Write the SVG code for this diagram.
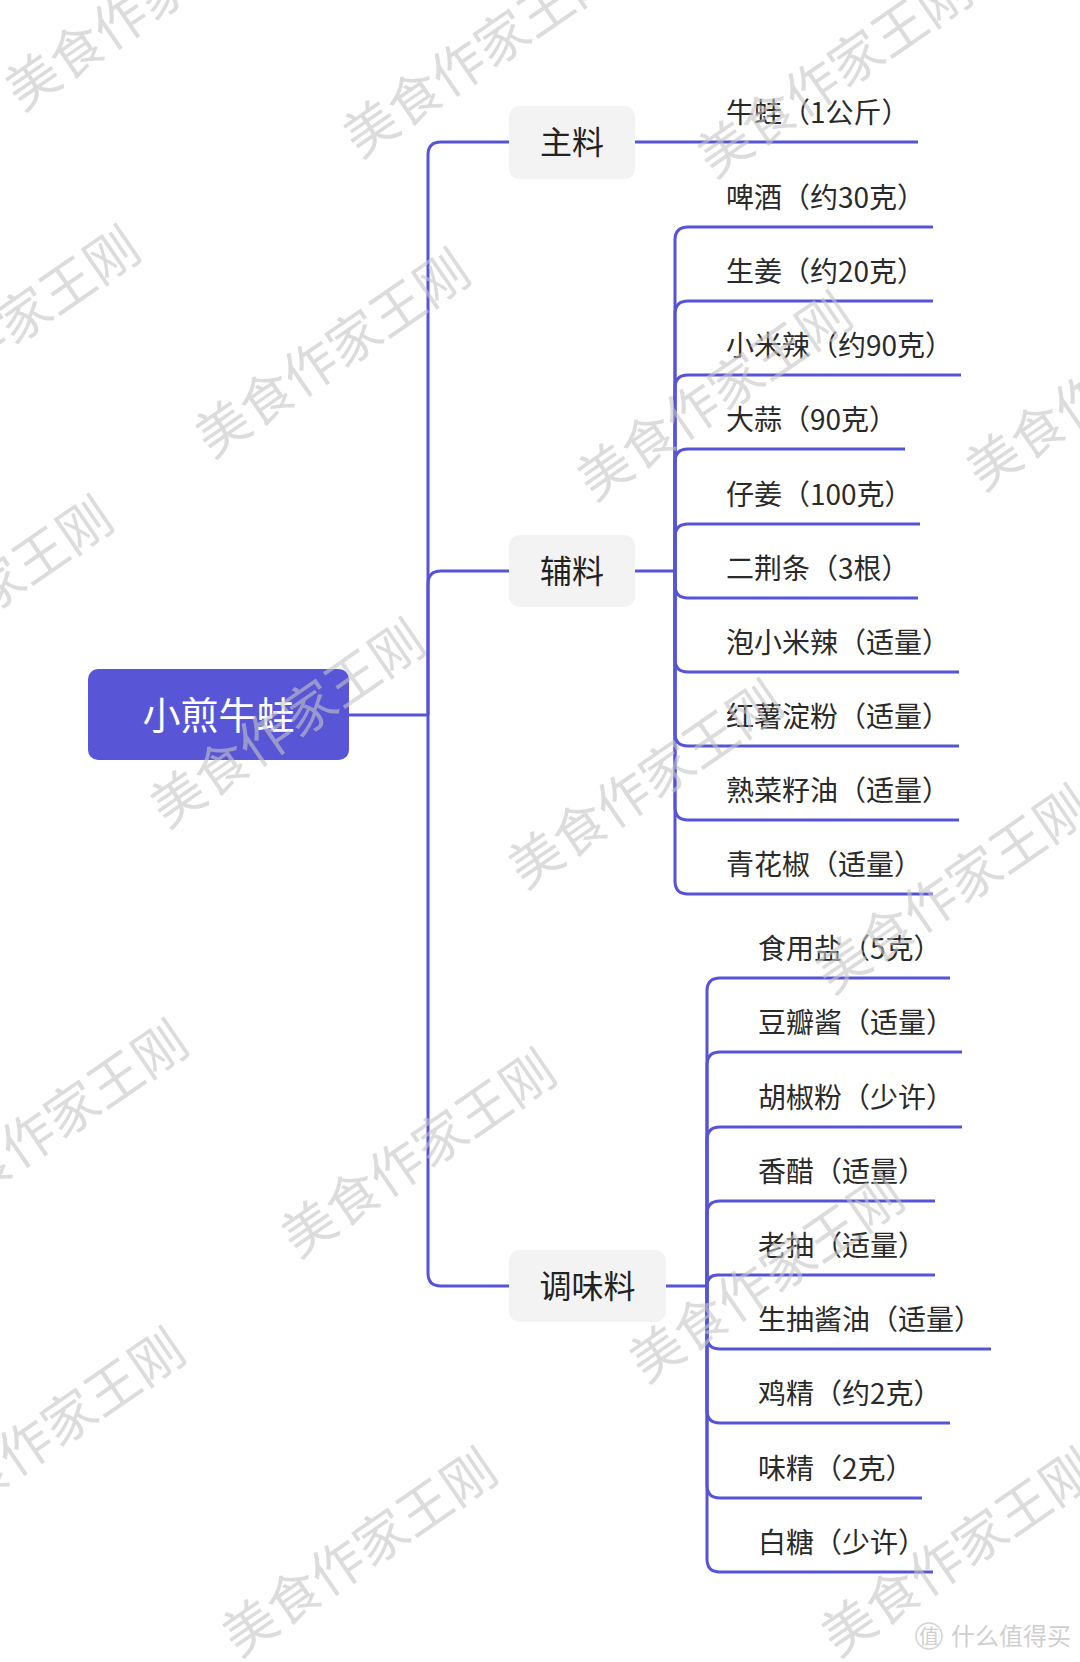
<svg xmlns="http://www.w3.org/2000/svg" width="1080" height="1662" viewBox="0 0 1080 1662">
<style>
.ln{fill:none;stroke:#5654d6;stroke-width:3;stroke-linecap:butt}
.it{font-family:"Noto Sans CJK SC","Noto Sans",sans-serif;font-size:28px;fill:#2a2a2a}
.mb{fill:#f3f3f3}
.mt{font-family:"Noto Sans CJK SC","Noto Sans",sans-serif;font-size:32px;fill:#222;text-anchor:middle}
.rt{font-family:"Noto Sans CJK SC","Noto Sans",sans-serif;font-size:38px;fill:#fff;text-anchor:middle}
.wm{font-family:"Noto Sans CJK SC",sans-serif;font-size:53px;fill:#c4c4c4;fill-opacity:0.6}
</style>
<rect width="1080" height="1662" fill="#fff"/>
<g id="connectors">
<path class="ln" d="M349,715 H428"/>
<path class="ln" d="M428,715 V155 Q428,142 441,142 H509"/>
<path class="ln" d="M428,715 V584 Q428,571 441,571 H509"/>
<path class="ln" d="M428,715 V1273 Q428,1286 441,1286 H509"/>
<path class="ln" d="M635,142 H918"/>
<path class="ln" d="M635,571 H675"/>
<path class="ln" d="M675,571 V240 Q675,227 688,227 H933"/>
<path class="ln" d="M675,571 V314 Q675,301 688,301 H933"/>
<path class="ln" d="M675,571 V388 Q675,375 688,375 H961"/>
<path class="ln" d="M675,571 V462 Q675,449 688,449 H905"/>
<path class="ln" d="M675,571 V537 Q675,524 688,524 H920"/>
<path class="ln" d="M675,571 V585 Q675,598 688,598 H918"/>
<path class="ln" d="M675,571 V659 Q675,672 688,672 H959"/>
<path class="ln" d="M675,571 V733 Q675,746 688,746 H959"/>
<path class="ln" d="M675,571 V807 Q675,820 688,820 H959"/>
<path class="ln" d="M675,571 V881 Q675,894 688,894 H933"/>
<path class="ln" d="M666,1286 H707"/>
<path class="ln" d="M707,1286 V991 Q707,978 720,978 H950"/>
<path class="ln" d="M707,1286 V1065 Q707,1052 720,1052 H962"/>
<path class="ln" d="M707,1286 V1140 Q707,1127 720,1127 H962"/>
<path class="ln" d="M707,1286 V1214 Q707,1201 720,1201 H935"/>
<path class="ln" d="M707,1286 Q707,1275 718,1275 H935"/>
<path class="ln" d="M707,1286 V1336 Q707,1349 720,1349 H991"/>
<path class="ln" d="M707,1286 V1410 Q707,1423 720,1423 H950"/>
<path class="ln" d="M707,1286 V1485 Q707,1498 720,1498 H922"/>
<path class="ln" d="M707,1286 V1559 Q707,1572 720,1572 H933"/>
</g>
<g id="root">
<rect x="88" y="669" width="261" height="91" rx="10" fill="#5856d6"/>
<text class="rt" x="218.5" y="729">小煎牛蛙</text>
</g>
<g id="zhuliao">
<rect class="mb" x="509" y="106" width="126" height="73" rx="11"/>
<text class="mt" x="572" y="154">主料</text>
</g>
<g id="fuliao">
<rect class="mb" x="509" y="535" width="126" height="72" rx="11"/>
<text class="mt" x="572" y="583">辅料</text>
</g>
<g id="tiaoweiliao">
<rect class="mb" x="509" y="1250" width="157" height="72" rx="11"/>
<text class="mt" x="587.5" y="1298">调味料</text>
</g>
<g id="item-niuwa"><text class="it" x="726" y="123">牛蛙（1公斤）</text></g>
<g id="item-pijiu"><text class="it" x="726" y="208">啤酒（约30克）</text></g>
<g id="item-shengjiang"><text class="it" x="726" y="282">生姜（约20克）</text></g>
<g id="item-xiaomila"><text class="it" x="726" y="356">小米辣（约90克）</text></g>
<g id="item-dasuan"><text class="it" x="726" y="430">大蒜（90克）</text></g>
<g id="item-zijiang"><text class="it" x="726" y="505">仔姜（100克）</text></g>
<g id="item-erjingtiao"><text class="it" x="726" y="579">二荆条（3根）</text></g>
<g id="item-paoxiaomila"><text class="it" x="726" y="653">泡小米辣（适量）</text></g>
<g id="item-hongshu"><text class="it" x="726" y="727">红薯淀粉（适量）</text></g>
<g id="item-caiziyou"><text class="it" x="726" y="801">熟菜籽油（适量）</text></g>
<g id="item-qinghuajiao"><text class="it" x="726" y="875">青花椒（适量）</text></g>
<g id="item-yan"><text class="it" x="758" y="959">食用盐（5克）</text></g>
<g id="item-doubanjiang"><text class="it" x="758" y="1033">豆瓣酱（适量）</text></g>
<g id="item-hujiaofen"><text class="it" x="758" y="1108">胡椒粉（少许）</text></g>
<g id="item-xiangcu"><text class="it" x="758" y="1182">香醋（适量）</text></g>
<g id="item-laochou"><text class="it" x="758" y="1256">老抽（适量）</text></g>
<g id="item-shengchou"><text class="it" x="758" y="1330">生抽酱油（适量）</text></g>
<g id="item-jijing"><text class="it" x="758" y="1404">鸡精（约2克）</text></g>
<g id="item-weijing"><text class="it" x="758" y="1479">味精（2克）</text></g>
<g id="item-baitang"><text class="it" x="758" y="1553">白糖（少许）</text></g>
<g id="watermarks">
<text class="wm" transform="translate(22,112) rotate(-34.5)">美食作家王刚</text>
<text class="wm" transform="translate(360,159) rotate(-34.5)">美食作家王刚</text>
<text class="wm" transform="translate(714,179) rotate(-34.5)">美食作家王刚</text>
<text class="wm" transform="translate(-118,436) rotate(-34.5)">美食作家王刚</text>
<text class="wm" transform="translate(212,459) rotate(-34.5)">美食作家王刚</text>
<text class="wm" transform="translate(594,502) rotate(-34.5)">美食作家王刚</text>
<text class="wm" transform="translate(983,492) rotate(-34.5)">美食作家王刚</text>
<text class="wm" transform="translate(-145,706) rotate(-34.5)">美食作家王刚</text>
<text class="wm" transform="translate(167,829) rotate(-34.5)">美食作家王刚</text>
<text class="wm" transform="translate(525,890) rotate(-34.5)">美食作家王刚</text>
<text class="wm" transform="translate(832,995) rotate(-34.5)">美食作家王刚</text>
<text class="wm" transform="translate(-70,1230) rotate(-34.5)">美食作家王刚</text>
<text class="wm" transform="translate(298,1259) rotate(-34.5)">美食作家王刚</text>
<text class="wm" transform="translate(646,1384) rotate(-34.5)">美食作家王刚</text>
<text class="wm" transform="translate(-73,1538) rotate(-34.5)">美食作家王刚</text>
<text class="wm" transform="translate(239,1658) rotate(-34.5)">美食作家王刚</text>
<text class="wm" transform="translate(838,1658) rotate(-34.5)">美食作家王刚</text>
</g>
<g id="logo" fill="#cfcfcf" font-family="Noto Sans CJK SC,sans-serif">
<circle cx="929" cy="1636" r="13" fill="none" stroke="#d4d4d4" stroke-width="1.5"/>
<text x="929" y="1644" font-size="20" text-anchor="middle">值</text>
<text x="951" y="1645" font-size="24">什么值得买</text>
</g>
</svg>
